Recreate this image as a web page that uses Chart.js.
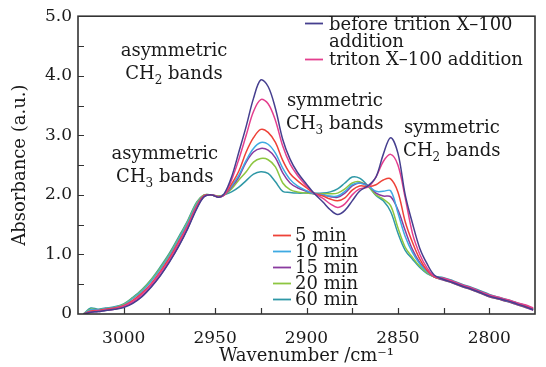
<!DOCTYPE html>
<html>
<head>
<meta charset="utf-8">
<script src="https://cdn.jsdelivr.net/npm/chart.js@4/dist/chart.umd.min.js"></script>
<style>
  html, body { margin: 0; padding: 0; background: #ffffff; }
  #wrap { width: 546px; height: 367px; position: relative; }
</style>
</head>
<body>
<div id="wrap"><canvas id="c" width="546" height="367"></canvas></div>
<script>
// ---- data ----
const wavenumbers = [3022, 3018, 3014, 3010, 3005, 3000, 2995, 2990, 2985, 2980, 2975, 2970, 2965, 2960, 2956, 2952, 2948,
  2945, 2941, 2937, 2933, 2929, 2925, 2921, 2917, 2913, 2909, 2905, 2900, 2896,
  2891, 2887, 2883, 2879, 2875, 2871, 2866, 2862, 2858, 2854,
  2850, 2846, 2842, 2838, 2834, 2830,
  2825, 2820, 2815, 2810, 2805, 2800, 2795, 2790, 2785, 2780, 2776];

const beforeTriton = [0.00, 0.03, 0.04, 0.06, 0.08, 0.11, 0.18, 0.29, 0.45, 0.64, 0.87, 1.13, 1.43, 1.77, 1.97, 2.00, 1.96,
  2.02, 2.30, 2.72, 3.15, 3.62, 3.93, 3.82, 3.45, 2.93, 2.60, 2.38, 2.18, 2.03,
  1.88, 1.75, 1.67, 1.74, 1.90, 2.06, 2.16, 2.30, 2.68, 2.96,
  2.70, 2.00, 1.52, 1.10, 0.84, 0.65,
  0.58, 0.53, 0.47, 0.42, 0.36, 0.30, 0.26, 0.22, 0.17, 0.12, 0.07];

const tritonAdded = [0.00, 0.04, 0.05, 0.07, 0.09, 0.13, 0.21, 0.33, 0.49, 0.69, 0.91, 1.18, 1.47, 1.80, 1.98, 2.00, 1.97,
  2.00, 2.25, 2.60, 3.00, 3.40, 3.60, 3.53, 3.25, 2.82, 2.52, 2.33, 2.15, 2.03,
  1.94, 1.85, 1.79, 1.85, 2.00, 2.10, 2.14, 2.30, 2.56, 2.68,
  2.50, 1.95, 1.35, 1.00, 0.77, 0.63,
  0.60, 0.55, 0.49, 0.44, 0.38, 0.32, 0.28, 0.24, 0.19, 0.15, 0.10];

const min5 = [0.00, 0.05, 0.06, 0.08, 0.10, 0.14, 0.23, 0.35, 0.51, 0.71, 0.94, 1.21, 1.49, 1.82, 1.99, 2.00, 1.97,
  2.00, 2.18, 2.40, 2.72, 2.96, 3.10, 3.05, 2.88, 2.58, 2.36, 2.24, 2.12, 2.03,
  1.98, 1.93, 1.90, 1.95, 2.08, 2.15, 2.14, 2.17, 2.25, 2.27,
  2.05, 1.55, 1.20, 0.92, 0.73, 0.62,
  0.59, 0.54, 0.48, 0.43, 0.37, 0.31, 0.27, 0.23, 0.18, 0.13, 0.09];

const min10 = [0.00, 0.07, 0.07, 0.09, 0.11, 0.15, 0.26, 0.38, 0.55, 0.75, 0.98, 1.25, 1.53, 1.85, 1.99, 2.00, 1.97,
  2.00, 2.15, 2.33, 2.58, 2.78, 2.88, 2.85, 2.70, 2.45, 2.26, 2.15, 2.07, 2.02,
  2.00, 1.98, 1.98, 2.06, 2.17, 2.20, 2.14, 2.06, 2.06, 2.07,
  1.70, 1.30, 1.03, 0.84, 0.71, 0.62,
  0.59, 0.54, 0.48, 0.43, 0.37, 0.31, 0.27, 0.22, 0.18, 0.13, 0.08];

const min15 = [0.00, 0.03, 0.04, 0.06, 0.08, 0.12, 0.19, 0.30, 0.46, 0.65, 0.88, 1.14, 1.44, 1.78, 1.97, 2.00, 1.96,
  2.00, 2.13, 2.30, 2.55, 2.72, 2.78, 2.75, 2.62, 2.37, 2.20, 2.12, 2.06, 2.02,
  2.00, 1.97, 1.96, 2.03, 2.15, 2.20, 2.15, 2.03, 1.98, 1.97,
  1.75, 1.40, 1.08, 0.86, 0.72, 0.62,
  0.57, 0.52, 0.46, 0.41, 0.35, 0.29, 0.25, 0.21, 0.16, 0.11, 0.06];

const min20 = [0.00, 0.08, 0.07, 0.09, 0.11, 0.16, 0.27, 0.40, 0.57, 0.77, 1.00, 1.27, 1.55, 1.87, 2.00, 2.00, 1.98,
  2.00, 2.10, 2.25, 2.39, 2.55, 2.61, 2.59, 2.47, 2.20, 2.09, 2.05, 2.03, 2.02,
  2.02, 2.02, 2.03, 2.10, 2.20, 2.22, 2.13, 2.00, 1.93, 1.82,
  1.45, 1.12, 0.95, 0.80, 0.69, 0.62,
  0.57, 0.52, 0.46, 0.41, 0.35, 0.29, 0.25, 0.21, 0.16, 0.11, 0.07];

const min60 = [0.00, 0.10, 0.08, 0.10, 0.12, 0.17, 0.28, 0.41, 0.58, 0.79, 1.02, 1.29, 1.57, 1.88, 2.00, 2.00, 1.98,
  2.00, 2.05, 2.13, 2.24, 2.35, 2.39, 2.36, 2.22, 2.06, 2.04, 2.03, 2.03, 2.03,
  2.03, 2.05, 2.10, 2.20, 2.30, 2.28, 2.14, 1.99, 1.90, 1.72,
  1.36, 1.07, 0.92, 0.78, 0.68, 0.63,
  0.61, 0.56, 0.50, 0.45, 0.39, 0.33, 0.28, 0.24, 0.19, 0.14, 0.09];

const seriesLabels = ['before trition X–100 addition', 'triton X–100 addition', '5 min', '10 min', '15 min', '20 min', '60 min'];
const seriesColors = ['#463f8f', '#e43f8e', '#ee4238', '#3eaae2', '#8a3b9f', '#8dc641', '#2f98a6'];
const seriesValues = [beforeTriton, tritonAdded, min5, min10, min15, min20, min60];

const xTickValues = [3000, 2950, 2900, 2850, 2800];
const yTickValues = [0, 1, 2, 3, 4, 5];

const annotations = [
  { lines: [['asymmetric'], ['CH', '2', ' bands']], wn: 2972.5, a: [4.33, 3.94] },
  { lines: [['symmetric'], ['CH', '3', ' bands']], wn: 2884.5, a: [3.49, 3.10] },
  { lines: [['symmetric'], ['CH', '2', ' bands']], wn: 2820.5, a: [3.045, 2.655] },
  { lines: [['asymmetric'], ['CH', '3', ' bands']], wn: 2977.5, a: [2.60, 2.21] }
];

const FONT = '"DejaVu Serif", serif';

const datasets = seriesValues.map((vals, i) => ({
  label: seriesLabels[i],
  data: vals.map((v, j) => ({ x: wavenumbers[j], y: v })),
  borderColor: seriesColors[i],
  backgroundColor: seriesColors[i],
  borderWidth: 1.5,
  pointRadius: 0,
  tension: 0.35,
  fill: false
}));

function drawSubText(ctx, parts, cx, baseline) {
  const big = '18px ' + FONT, small = '12px ' + FONT;
  const widths = parts.map((p, k) => { ctx.font = (k === 1 && parts.length === 3) ? small : big; return ctx.measureText(p).width; });
  const total = widths.reduce((s, w) => s + w, 0);
  let x = cx - total / 2;
  parts.forEach((p, k) => {
    const sub = (k === 1 && parts.length === 3);
    ctx.font = sub ? small : big;
    ctx.fillText(p, x, baseline + (sub ? 5 : 0));
    x += widths[k];
  });
}

const framePlugin = {
  id: 'frameAndText',
  afterDatasetsDraw(chart) {
    const { ctx, chartArea: ca, scales } = chart;
    const xs = scales.x, ys = scales.y;
    ctx.save();
    ctx.strokeStyle = '#333333';
    ctx.lineWidth = 1.6;
    ctx.strokeRect(ca.left, ca.top, ca.right - ca.left, ca.bottom - ca.top);
    ctx.lineWidth = 1.2;
    ctx.beginPath();
    xs.ticks.forEach(t => {
      const px = Math.round(xs.getPixelForValue(t.value)) + 0.5;
      if (px <= ca.left + 1 || px >= ca.right - 1) return;
      ctx.moveTo(px, ca.bottom); ctx.lineTo(px, ca.bottom - 6);
    });
    ys.ticks.forEach(t => {
      const py = Math.round(ys.getPixelForValue(t.value)) + 0.5;
      if (py <= ca.top + 1 || py >= ca.bottom - 1) return;
      ctx.moveTo(ca.left, py); ctx.lineTo(ca.left + 6, py);
    });
    ctx.stroke();

    // annotations
    ctx.fillStyle = '#1a1a1a';
    ctx.textBaseline = 'alphabetic';
    annotations.forEach(an => {
      const cx = xs.getPixelForValue(an.wn);
      an.lines.forEach((parts, k) => {
        drawSubText(ctx, parts, cx, ys.getPixelForValue(an.a[k]));
      });
    });

    // legend 1 (top right)
    ctx.font = '18px ' + FONT;
    const l1 = [
      { c: seriesColors[0], lines: ['before trition X–100', 'addition'], dashY: 23.5, base: 30 },
      { c: seriesColors[1], lines: ['triton X–100 addition'], dashY: 59.5, base: 65 }
    ];
    l1.forEach(e => {
      ctx.strokeStyle = e.c; ctx.lineWidth = 1.8;
      ctx.beginPath(); ctx.moveTo(305, e.dashY); ctx.lineTo(323, e.dashY); ctx.stroke();
      e.lines.forEach((s, k) => ctx.fillText(s, 329, e.base + k * 16.5));
    });
    // legend 2 (time series)
    for (let i = 2; i < 7; i++) {
      const y = 235 + (i - 2) * 16;
      ctx.strokeStyle = seriesColors[i]; ctx.lineWidth = 1.8;
      ctx.beginPath(); ctx.moveTo(273, y + 0.5); ctx.lineTo(291, y + 0.5); ctx.stroke();
      ctx.fillText(seriesLabels[i], 295, y + 6);
    }
    ctx.restore();
  }
};

new Chart(document.getElementById('c'), {
  type: 'line',
  data: { datasets },
  plugins: [framePlugin],
  options: {
    responsive: false,
    animation: false,
    events: [],
    layout: { padding: { top: 15, right: 11, left: 0, bottom: 0 } },
    plugins: { legend: { display: false }, tooltip: { enabled: false } },
    scales: {
      x: {
        type: 'linear',
        reverse: true,
        min: 2775,
        max: 3025,
        grid: { display: false, drawTicks: false },
        border: { display: false },
        afterBuildTicks(scale) {
          const t = [];
          for (let v = 2775; v <= 3025; v += 25) t.push({ value: v });
          scale.ticks = t;
        },
        ticks: {
          autoSkip: false,
          maxRotation: 0,
          padding: 14,
          color: '#1a1a1a',
          font: { family: FONT, size: 17 },
          callback: v => xTickValues.includes(v) ? String(v) : ''
        },
        title: {
          display: true,
          text: 'Wavenumber /cm⁻¹',
          color: '#1a1a1a',
          font: { family: FONT, size: 18 },
          padding: { top: 0, bottom: 0 }
        },
        afterFit(scale) { scale.height = 53; }
      },
      y: {
        min: 0,
        max: 5,
        grid: { display: false, drawTicks: false },
        border: { display: false },
        afterBuildTicks(scale) {
          const t = [];
          for (let k = 0; k <= 10; k++) t.push({ value: k * 0.5 });
          scale.ticks = t;
        },
        ticks: {
          autoSkip: false,
          padding: 6,
          color: '#1a1a1a',
          font: { family: FONT, size: 17 },
          callback: v => yTickValues.includes(v) ? (v === 0 ? '0' : v.toFixed(1)) : ''
        },
        title: {
          display: true,
          text: 'Absorbance (a.u.)',
          color: '#1a1a1a',
          font: { family: FONT, size: 18 },
          padding: { top: 10, bottom: 0 }
        },
        afterFit(scale) { scale.width = 78; }
      }
    }
  }
});
</script>
</body>
</html>
